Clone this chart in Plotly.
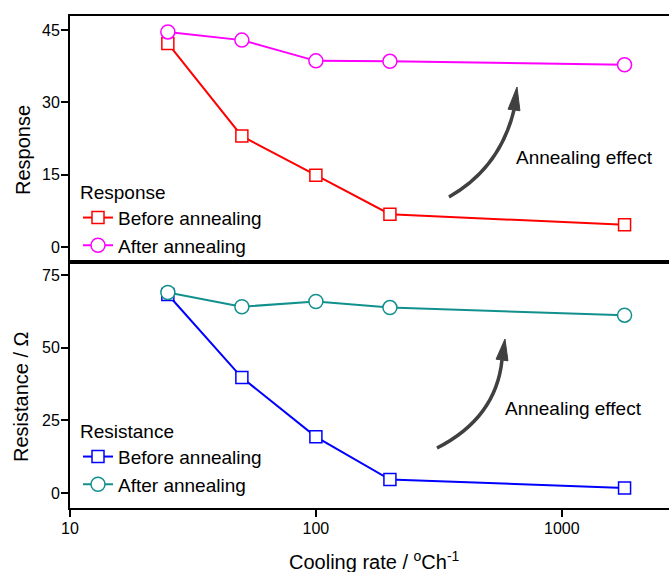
import plotly.graph_objects as go
from plotly.subplots import make_subplots

cooling_rate = [25, 50, 100, 200, 1800]
response_before = [42.2, 23.0, 14.9, 6.8, 4.6]
response_after = [44.6, 42.9, 38.6, 38.5, 37.8]
resistance_before = [68.3, 39.7, 19.3, 4.6, 1.7]
resistance_after = [69.0, 64.1, 65.9, 63.8, 61.2]

FONT = "Liberation Sans, Arial, sans-serif"
W, H = 669, 572
L, R, T, B = 70, 0, 16, 64
PW, PH = W - L - R, H - T - B


def px(x):
    return (x - L) / PW


def py(y):
    return (H - B - y) / PH


fig = make_subplots(rows=2, cols=1, shared_xaxes=True, vertical_spacing=0)

fig.add_trace(go.Scatter(x=cooling_rate, y=response_before, mode="lines+markers",
                         name="Before annealing", line=dict(color="#FF0000", width=2),
                         marker=dict(symbol="square", size=12, color="white",
                                     line=dict(color="#FF0000", width=1.5)),
                         legend="legend"), row=1, col=1)
fig.add_trace(go.Scatter(x=cooling_rate, y=response_after, mode="lines+markers",
                         name="After annealing", line=dict(color="#FF00FF", width=2),
                         marker=dict(symbol="circle", size=14, color="white",
                                     line=dict(color="#FF00FF", width=1.5)),
                         legend="legend"), row=1, col=1)
fig.add_trace(go.Scatter(x=cooling_rate, y=resistance_before, mode="lines+markers",
                         name="Before annealing", line=dict(color="#0000FF", width=2),
                         marker=dict(symbol="square", size=12, color="white",
                                     line=dict(color="#0000FF", width=1.5)),
                         legend="legend2"), row=2, col=1)
fig.add_trace(go.Scatter(x=cooling_rate, y=resistance_after, mode="lines+markers",
                         name="After annealing", line=dict(color="#12908E", width=2),
                         marker=dict(symbol="circle", size=14, color="white",
                                     line=dict(color="#12908E", width=1.5)),
                         legend="legend2"), row=2, col=1)

xcommon = dict(type="log", range=[1, 3.436], showgrid=False, zeroline=False,
               showline=True, linecolor="black", linewidth=2, mirror=True)
fig.update_xaxes(**xcommon, ticks="", showticklabels=False, row=1, col=1)
fig.update_xaxes(**xcommon, ticks="outside", ticklen=7, tickwidth=1.5, tickcolor="black",
                 tickvals=[10, 100, 1000], ticktext=["10", "100", "1000"],
                 ticklabelstandoff=-2,
                 tickfont=dict(family=FONT, size=16, color="black"), row=2, col=1)

ycommon = dict(showgrid=False, zeroline=False, showline=True, linecolor="black", linewidth=2,
               ticks="outside", ticklen=7, tickwidth=1.5, tickcolor="black",
               ticklabelstandoff=-2,
               tickfont=dict(family=FONT, size=16, color="black"))
fig.update_yaxes(**ycommon, range=[-3.1, 47.9], tickvals=[0, 15, 30, 45], row=1, col=1)
fig.update_yaxes(**ycommon, range=[-5.2, 79.5], tickvals=[0, 25, 50, 75], row=2, col=1)

fig.update_layout(yaxis=dict(domain=[0.5, 1]), yaxis2=dict(domain=[0, 0.5]))

legfont = dict(family=FONT, size=19, color="black")
fig.update_layout(
    legend=dict(x=px(78), y=py(265), xanchor="left", yanchor="bottom",
                title=dict(text="Response", font=legfont), font=legfont,
                bgcolor="rgba(0,0,0,0)", tracegroupgap=0),
    legend2=dict(x=px(78), y=py(504), xanchor="left", yanchor="bottom",
                 title=dict(text="Resistance", font=legfont), font=legfont,
                 bgcolor="rgba(0,0,0,0)", tracegroupgap=0),
)

ARROW = "#404040"


def curved_arrow(p0, c, p1, tip, half_w):
    x0, y0 = p0
    cx, cy = c
    x1, y1 = p1
    path = f"M {px(x0)},{py(y0)} Q {px(cx)},{py(cy)} {px(x1)},{py(y1)}"
    fig.add_shape(type="path", path=path, xref="paper", yref="paper",
                  line=dict(color=ARROW, width=3.5))
    dx, dy = tip[0] - x1, tip[1] - y1
    n = (dx * dx + dy * dy) ** 0.5
    ux, uy = dx / n, dy / n
    nx, ny = -uy, ux
    b1 = (x1 + nx * half_w, y1 + ny * half_w)
    b2 = (x1 - nx * half_w, y1 - ny * half_w)
    head = (f"M {px(tip[0])},{py(tip[1])} L {px(b1[0])},{py(b1[1])} "
            f"L {px(b2[0])},{py(b2[1])} Z")
    fig.add_shape(type="path", path=head, xref="paper", yref="paper",
                  fillcolor=ARROW, line=dict(color=ARROW, width=1))


curved_arrow((449, 197), (500, 168), (514, 110), (517, 87), 6)
curved_arrow((437, 448), (496, 418), (502, 360), (505, 339), 6)

annfont = dict(family=FONT, size=19, color="black")
fig.add_annotation(x=px(584), y=py(158), xref="paper", yref="paper", text="Annealing effect",
                   xanchor="center", yanchor="middle", showarrow=False, font=annfont)
fig.add_annotation(x=px(573), y=py(408), xref="paper", yref="paper", text="Annealing effect",
                   xanchor="center", yanchor="middle", showarrow=False, font=annfont)

titlefont = dict(family=FONT, size=20, color="black")
fig.add_annotation(x=px(23), y=py(150), xref="paper", yref="paper", text="Response",
                   xanchor="center", yanchor="middle",
                   textangle=-90, showarrow=False, font=titlefont)
fig.add_annotation(x=px(21), y=py(396), xref="paper", yref="paper", text="Resistance / Ω",
                   xanchor="center", yanchor="middle",
                   textangle=-90, showarrow=False, font=titlefont)
fig.add_annotation(x=px(374), y=py(560), xref="paper", yref="paper",
                   text="Cooling rate / <sup>o</sup>Ch<sup>-1</sup>",
                   xanchor="center", yanchor="middle",
                   showarrow=False, font=titlefont)

fig.update_layout(width=W, height=H, margin=dict(l=L, r=R, t=T, b=B),
                  paper_bgcolor="white", plot_bgcolor="white", showlegend=True)

fig.write_html("out.html")
